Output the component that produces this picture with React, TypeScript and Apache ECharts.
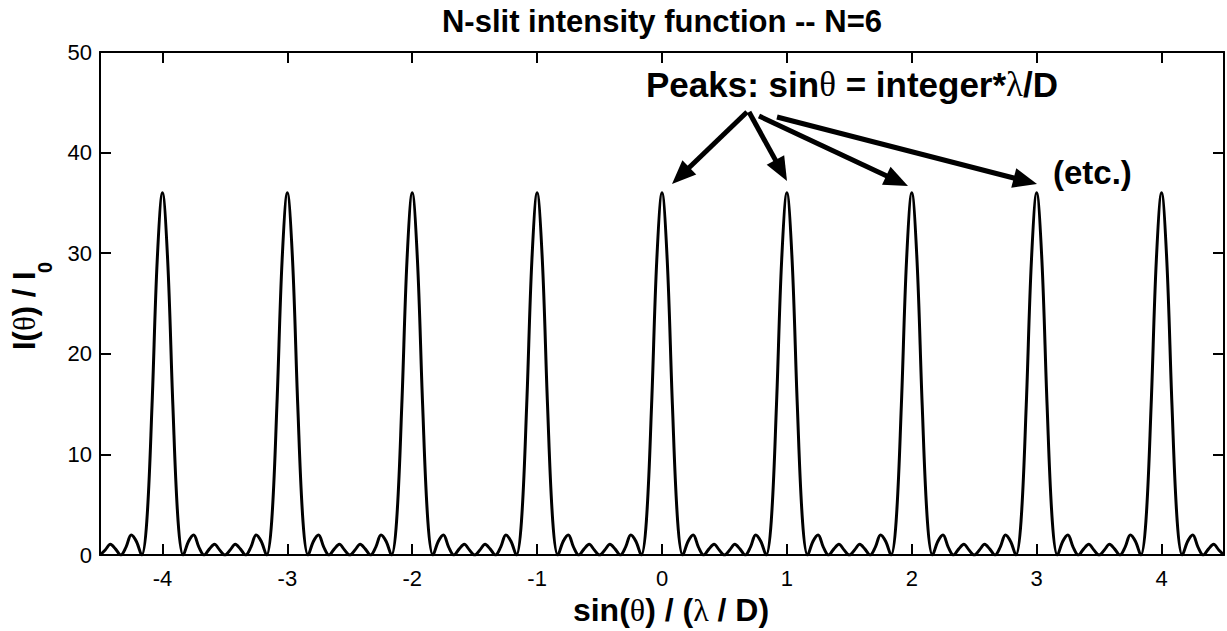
import React, { useEffect, useRef } from "react";
import * as echarts from "echarts";

// ---- data -------------------------------------------------------------
const X_MIN = -4.5;
const X_MAX = 4.5;
const SAMPLE_STEP = 1 / 24; // spacing of the samples
const xTickValues = [-4, -3, -2, -1, 0, 1, 2, 3, 4];
const yTickValues = [0, 10, 20, 30, 40, 50];

// I(θ)/I0 sampled every 1/24 from -4.5 to 4.5
const intensity = [
  // -4.5 .. -4
  0, 0.51, 1.07, 0.59, 0, 0.79, 2, 1.35, 0, 3.41, 14.93, 29.35,
  // -4 .. -3
  36, 29.35, 14.93, 3.41, 0, 1.35, 2, 0.79, 0, 0.59, 1.07, 0.51, 0, 0.51, 1.07, 0.59, 0, 0.79, 2, 1.35, 0, 3.41, 14.93, 29.35,
  // -3 .. -2
  36, 29.35, 14.93, 3.41, 0, 1.35, 2, 0.79, 0, 0.59, 1.07, 0.51, 0, 0.51, 1.07, 0.59, 0, 0.79, 2, 1.35, 0, 3.41, 14.93, 29.35,
  // -2 .. -1
  36, 29.35, 14.93, 3.41, 0, 1.35, 2, 0.79, 0, 0.59, 1.07, 0.51, 0, 0.51, 1.07, 0.59, 0, 0.79, 2, 1.35, 0, 3.41, 14.93, 29.35,
  // -1 .. 0
  36, 29.35, 14.93, 3.41, 0, 1.35, 2, 0.79, 0, 0.59, 1.07, 0.51, 0, 0.51, 1.07, 0.59, 0, 0.79, 2, 1.35, 0, 3.41, 14.93, 29.35,
  // 0 .. 1
  36, 29.35, 14.93, 3.41, 0, 1.35, 2, 0.79, 0, 0.59, 1.07, 0.51, 0, 0.51, 1.07, 0.59, 0, 0.79, 2, 1.35, 0, 3.41, 14.93, 29.35,
  // 1 .. 2
  36, 29.35, 14.93, 3.41, 0, 1.35, 2, 0.79, 0, 0.59, 1.07, 0.51, 0, 0.51, 1.07, 0.59, 0, 0.79, 2, 1.35, 0, 3.41, 14.93, 29.35,
  // 2 .. 3
  36, 29.35, 14.93, 3.41, 0, 1.35, 2, 0.79, 0, 0.59, 1.07, 0.51, 0, 0.51, 1.07, 0.59, 0, 0.79, 2, 1.35, 0, 3.41, 14.93, 29.35,
  // 3 .. 4
  36, 29.35, 14.93, 3.41, 0, 1.35, 2, 0.79, 0, 0.59, 1.07, 0.51, 0, 0.51, 1.07, 0.59, 0, 0.79, 2, 1.35, 0, 3.41, 14.93, 29.35,
  // 4 .. 4.5
  36, 29.35, 14.93, 3.41, 0, 1.35, 2, 0.79, 0, 0.59, 1.07, 0.51, 0,
];

const TITLE = "N-slit intensity function -- N=6";
const ANNOTATION = "{b|Peaks: sin}{s|θ}{b| = integer*}{s|λ}{b|/D}";
const ETC = "(etc.)";

// ---- styling ----------------------------------------------------------
const SANS = '"Liberation Sans", Arial, Helvetica, sans-serif';
const SERIF = '"Liberation Serif", "DejaVu Serif", serif';
const BLACK = "#000";

function textStyle(extra: any) {
  return {
    fill: BLACK,
    ...extra,
    textAlign: extra.align,
    textVerticalAlign: extra.verticalAlign,
  };
}

function arrow(x1: number, y1: number, x2: number, y2: number) {
  const dx = x2 - x1;
  const dy = y2 - y1;
  const L = Math.hypot(dx, dy);
  const ux = dx / L;
  const uy = dy / L;
  const hl = 24;
  const hw = 10;
  const bx = x2 - ux * hl;
  const by = y2 - uy * hl;
  return [
    {
      type: "line",
      shape: { x1, y1, x2: bx + ux * 3, y2: by + uy * 3 },
      style: { stroke: BLACK, lineWidth: 5 },
    },
    {
      type: "polygon",
      shape: {
        points: [
          [x2, y2],
          [bx - uy * hw, by + ux * hw],
          [bx + uy * hw, by - ux * hw],
        ],
      },
      style: { fill: BLACK },
    },
  ];
}

export default function App() {
  const ref = useRef<HTMLDivElement>(null);

  useEffect(() => {
    if (!ref.current) return;
    const chart = echarts.init(ref.current, null, { renderer: "svg" });

    const seriesData = intensity.map((v, i) => [X_MIN + i * SAMPLE_STEP, v]);

    const axisLine = { show: true, onZero: false, lineStyle: { color: BLACK, width: 2 } };
    const axisTick = { show: true, inside: true, length: 11, lineStyle: { color: BLACK, width: 2 } };

    const option: any = {
      animation: false,
      backgroundColor: "#fff",
      grid: { left: 100, right: 2, top: 52, bottom: 73, containLabel: false },
      xAxis: [
        {
          type: "value",
          position: "bottom",
          min: X_MIN,
          max: X_MAX,
          splitNumber: 9,
          axisLine,
          axisTick,
          splitLine: { show: false },
          axisLabel: {
            color: BLACK,
            fontSize: 22,
            fontFamily: SANS,
            margin: 12,
            formatter: (v: number) => (xTickValues.includes(v) ? String(v) : ""),
          },
          name: "{b|sin(}{s|θ}{b|) / (}{s|λ}{b| / D)}",
          nameLocation: "middle",
          nameGap: 38,
          nameTextStyle: {
            padding: [0, 0, 0, 18],
            rich: {
              b: { fontSize: 32, fontWeight: "bold", fontFamily: SANS, color: BLACK },
              s: { fontSize: 32, fontWeight: "normal", fontFamily: SERIF, color: BLACK },
            },
          },
        },
        {
          type: "value",
          position: "top",
          min: X_MIN,
          max: X_MAX,
          splitNumber: 9,
          axisLine,
          axisTick,
          splitLine: { show: false },
          axisLabel: { show: false },
        },
      ],
      yAxis: [
        {
          type: "value",
          position: "left",
          min: 0,
          max: 50,
          interval: 10,
          axisLine,
          axisTick,
          splitLine: { show: false },
          axisLabel: {
            color: BLACK,
            fontSize: 22,
            fontFamily: SANS,
            margin: 8,
            formatter: (v: number) => (yTickValues.includes(v) ? String(v) : ""),
          },
        },
        {
          type: "value",
          position: "right",
          min: 0,
          max: 50,
          interval: 10,
          axisLine,
          axisTick,
          splitLine: { show: false },
          axisLabel: { show: false },
        },
      ],
      series: [
        {
          type: "line",
          xAxisIndex: 0,
          yAxisIndex: 0,
          data: seriesData,
          showSymbol: false,
          smooth: 0.35,
          lineStyle: { color: BLACK, width: 3 },
          itemStyle: { color: BLACK },
          silent: true,
        },
      ],
      graphic: [
        {
          type: "text",
          x: 662,
          y: 21,
          style: textStyle({
            text: TITLE,
            font: `bold 31px ${SANS}`,
            align: "center",
            verticalAlign: "middle",
          }),
        },
        {
          type: "group",
          x: 35,
          y: 350,
          rotation: Math.PI / 2,
          children: [
            {
              type: "text",
              x: 0,
              y: -11,
              style: textStyle({
                text: "{b|I(}{s|θ}{b|) / I}",
                align: "left",
                verticalAlign: "middle",
                rich: {
                  b: { font: `bold 31px ${SANS}`, fill: BLACK },
                  s: { font: `31px ${SERIF}`, fill: BLACK },
                },
              }),
            },
            {
              type: "text",
              x: 77,
              y: 10,
              style: textStyle({
                text: "0",
                font: `bold 20px ${SANS}`,
                align: "left",
                verticalAlign: "middle",
              }),
            },
          ],
        },
        {
          type: "text",
          x: 646,
          y: 84,
          style: textStyle({
            text: ANNOTATION,
            align: "left",
            verticalAlign: "middle",
            rich: {
              b: { font: `bold 35px ${SANS}`, fill: BLACK },
              s: { font: `35px ${SERIF}`, fill: BLACK },
            },
          }),
        },
        {
          type: "text",
          x: 1053,
          y: 172,
          style: textStyle({
            text: ETC,
            font: `bold 33px ${SANS}`,
            align: "left",
            verticalAlign: "middle",
          }),
        },
        ...arrow(747, 112, 672, 184),
        ...arrow(749, 112, 787, 181),
        ...arrow(759, 116, 908, 186),
        ...arrow(777, 117, 1037, 184),
      ],
    };

    chart.setOption(option);
    return () => chart.dispose();
  }, []);

  return (
    <div
      ref={ref}
      style={{ position: "fixed", left: 0, top: 0, width: 1227, height: 631, background: "#fff" }}
    />
  );
}
